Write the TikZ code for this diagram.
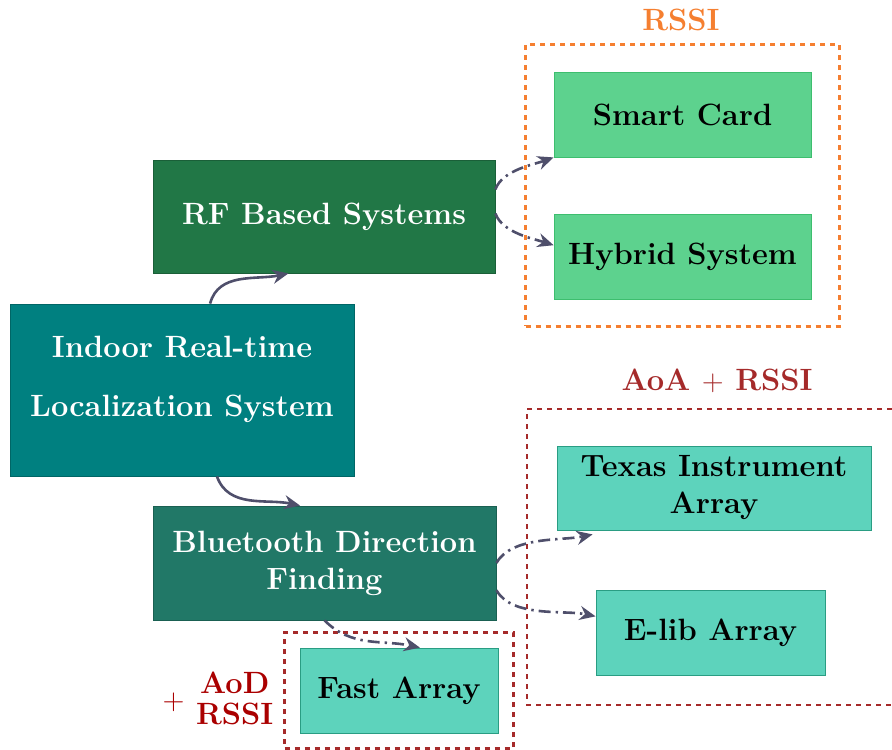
\documentclass[tikz,border=0pt]{standalone}
\usepackage{tikz}
\usetikzlibrary{positioning, arrows.meta, fit}
\usepackage{xcolor}
\definecolor{RFGreen}{HTML}{217746}
\definecolor{IrlsTeal}{HTML}{008080}
\definecolor{BtGreen}{HTML}{217867}
\definecolor{CardGreen}{HTML}{5DD28E}
\definecolor{CardEdge}{HTML}{3DBE6E}
\definecolor{ArrayCyan}{HTML}{5DD3BC}
\definecolor{ArrayEdge}{HTML}{2A9D83}
\definecolor{FlowGray}{HTML}{4F4F6B}
\definecolor{RssiOrange}{HTML}{F57F30}
\definecolor{AoaRed}{HTML}{A52A2A}
\definecolor{AodRed}{HTML}{AA0000}
\newcommand{\boxfont}{\fontsize{15.4}{18.5}\selectfont\bfseries}

\begin{document}
\begin{tikzpicture}[x=0.5pt, y=-0.5pt,
    mainbox/.style={rectangle, draw=#1!80!black, fill=#1, text=white, font=\boxfont, align=center, inner sep=0pt},
    subbox/.style={rectangle, draw=#1, text=black, font=\boxfont, align=center, inner sep=0pt},
    groupbox/.style={draw=#1, line width=1.2pt, dash pattern=on 2.5pt off 2.5pt},
    flow/.style={-{Stealth[length=8pt, width=7pt]}, draw=FlowGray, line width=1.3pt},
    dflow/.style={flow, dash pattern=on 6pt off 2.5pt on 1.2pt off 2.5pt}]
    \useasboundingbox (0,0) rectangle (892,749);

    % Nodes
    \node[mainbox=IrlsTeal, minimum width=172pt, minimum height=86pt] (irls) at (182,390) {Indoor Real-time\\[11pt]Localization System\\[-5pt]\mbox{}};
    \node[mainbox=RFGreen, minimum width=171pt, minimum height=56.5pt] (rf) at (324,216.5) {RF Based Systems};
    \node[mainbox=BtGreen, minimum width=171.5pt, minimum height=57pt] (bt) at (324.5,563) {Bluetooth Direction\\Finding};

    \node[subbox=CardEdge, fill=CardGreen, minimum width=128.5pt, minimum height=42.5pt] (smart) at (682.5,114.5) {Smart Card};
    \node[subbox=CardEdge, fill=CardGreen, minimum width=128.5pt, minimum height=42.5pt] (hybrid) at (682.5,256.5) {Hybrid System};
    \node[subbox=ArrayEdge, fill=ArrayCyan, minimum width=157pt, minimum height=42pt] (tia) at (714,488) {Texas Instrument\\Array};
    \node[subbox=ArrayEdge, fill=ArrayCyan, minimum width=114.5pt, minimum height=42.5pt] (elib) at (710.5,632.5) {E-lib Array};
    \node[subbox=ArrayEdge, fill=ArrayCyan, minimum width=99pt, minimum height=42.5pt] (fast) at (399,690.5) {Fast Array};

    % Groups
    \node[groupbox=RssiOrange, fit=(smart)(hybrid), inner xsep=14pt, inner ysep=13.5pt] (rssibox) {};
    \node[groupbox=AoaRed, fit=(fast), inner xsep=7.5pt, inner ysep=7.5pt] (fastbox) {};
    \draw[groupbox=AoaRed] (892,409) -- (527,409) -- (527,705) -- (892,705);

    \node[text=RssiOrange, font=\boxfont] (rssilbl) at (681,20) {RSSI};
    \node[text=AoaRed, font=\boxfont] (aoalbl) at (717,381) {AoA $+$ RSSI};
    \node[text=AodRed, font=\boxfont, inner sep=0pt] (aodlbl) at (218,702) {$+$\ \begin{tabular}{@{}c@{}}AoD\\[-3pt]RSSI\end{tabular}};

    % Edges
    \draw[flow] (irls.72) to[out=75, in=192] (rf.238);
    \draw[flow] (irls.292) to[out=-70, in=168] (bt.113);
    \draw[dflow] (rf.9) to[out=70, in=200, looseness=0.8] (smart.south west);
    \draw[dflow] (rf.1) to[out=-70, in=162, looseness=0.8] (hybrid.175);
    \draw[dflow] (bt.0) to[out=60, in=192, looseness=0.8] ([xshift=18pt, yshift=-2pt]tia.south west);
    \draw[dflow] (bt.351) to[out=-60, in=168, looseness=0.8] (elib.172);
    \draw[dflow] (bt.south) to[out=-45, in=168] (fast.64);
\end{tikzpicture}
\end{document}
